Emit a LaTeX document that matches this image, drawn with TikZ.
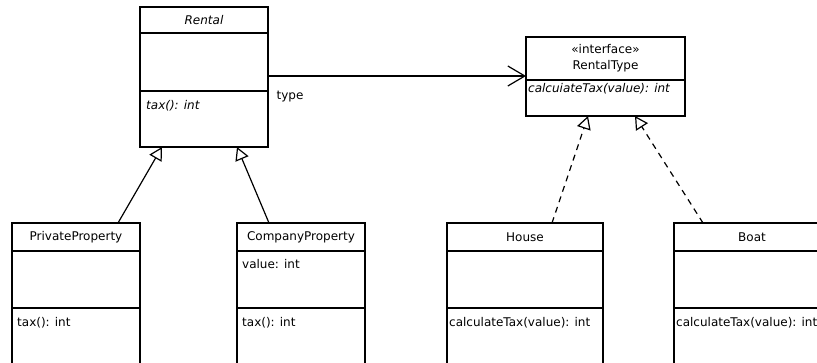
\documentclass[tikz,border=0pt]{standalone}
\usepackage{fontspec}
\setmainfont{DejaVu Sans}
\usetikzlibrary{arrows.meta}

\tikzset{
  part/.style={draw, line width=1.2pt, inner sep=0pt, outer sep=0pt, anchor=north},
  head/.style={part, font=\fontsize{12}{16}\selectfont, align=center},
  txt/.style={anchor=base west, inner sep=0pt, font=\fontsize{12}{14}\selectfont},
  gen/.style={line width=1.2pt, -{Triangle[open, length=13pt, width=14pt]}},
  real/.style={gen, dash pattern=on 6pt off 5pt},
  assoc/.style={line width=1.2pt, -{Straight Barb[length=17pt, width=20pt, line width=1.2pt]}}
}

\begin{document}
\begin{tikzpicture}[x=1pt,y=-1pt]
         \clip (0,0) rectangle (817,362) ;
         % Rental
         \node[head, minimum width=128pt, minimum height=26pt] (r) at (204,7) {\itshape Rental} ;
         \node[part, minimum width=128pt, minimum height=58pt] (ra) at (r.south) {} ;
         \node[part, minimum width=128pt, minimum height=56pt] (rm) at (ra.south) {} ;
         \node[txt] at ([xshift=6pt,yshift=-18pt]rm.north west) {\itshape tax(): int} ;
         % RentalType
         \node[head, minimum width=159pt, minimum height=43pt] (t) at (605.5,37) {«interface»\\RentalType} ;
         \node[part, minimum width=159pt, minimum height=36pt] (tm) at (t.south) {} ;
         \node[txt] at ([xshift=2pt,yshift=-12pt]tm.north west) {\itshape calcuiateTax(value): int} ;
         % PrivateProperty
         \node[head, minimum width=128pt, minimum height=28pt] (p) at (76,223) {PrivateProperty} ;
         \node[part, minimum width=128pt, minimum height=57pt] (pa) at (p.south) {} ;
         \node[part, minimum width=128pt, minimum height=70pt] (pm) at (pa.south) {} ;
         \node[txt] at ([xshift=5pt,yshift=-18pt]pm.north west) {tax(): int} ;
         % CompanyProperty
         \node[head, minimum width=128pt, minimum height=28pt] (c) at (301,223) {CompanyProperty} ;
         \node[part, minimum width=128pt, minimum height=57pt] (ca) at (c.south) {} ;
         \node[part, minimum width=128pt, minimum height=70pt] (cm) at (ca.south) {} ;
         \node[txt] at ([xshift=5pt,yshift=-17pt]ca.north west) {value: int} ;
         \node[txt] at ([xshift=5pt,yshift=-18pt]cm.north west) {tax(): int} ;
         % House
         \node[head, minimum width=156pt, minimum height=28pt] (h) at (525,223) {House} ;
         \node[part, minimum width=156pt, minimum height=57pt] (ha) at (h.south) {} ;
         \node[part, minimum width=156pt, minimum height=70pt] (hm) at (ha.south) {} ;
         \node[txt] at ([xshift=2pt,yshift=-18pt]hm.north west) {calculateTax(value): int} ;
         % Boat
         \node[head, minimum width=156pt, minimum height=28pt] (b) at (752,223) {Boat} ;
         \node[part, minimum width=156pt, minimum height=57pt] (ba) at (b.south) {} ;
         \node[part, minimum width=156pt, minimum height=70pt] (bm) at (ba.south) {} ;
         \node[txt] at ([xshift=2pt,yshift=-18pt]bm.north west) {calculateTax(value): int} ;
         % connectors
         \draw[assoc] ([yshift=-14pt]ra.east) -- ([yshift=-14pt]ra.east -| t.west)
         node[pos=0, below right, inner sep=0pt, yshift=-14pt, xshift=8pt, font=\fontsize{12}{14}\selectfont] {type} ;
         \draw[gen] ([xshift=42pt]p.north) -- ([xshift=-42pt]rm.south) ;
         \draw[gen] ([xshift=-32pt]c.north) -- ([xshift=33pt]rm.south) ;
         \draw[real] ([xshift=27pt]h.north) -- ([xshift=-17.5pt]tm.south) ;
         \draw[real] ([xshift=-49pt]b.north) -- ([xshift=29.5pt]tm.south) ;
      \end{tikzpicture}
\end{document}
